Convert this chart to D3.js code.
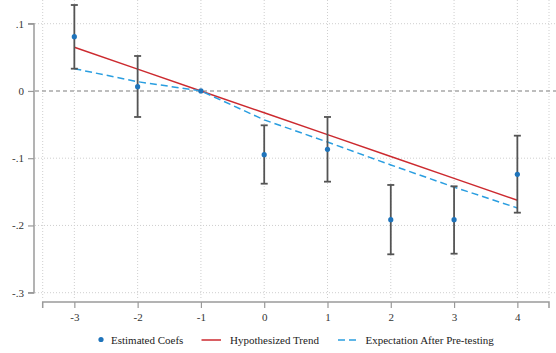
<!DOCTYPE html>
<html>
<head>
<meta charset="utf-8">
<script src="https://cdn.jsdelivr.net/npm/d3@7"></script>
<style>
  html, body { margin: 0; padding: 0; background: #fff; }
  svg { display: block; font-family: "Liberation Serif", "Times New Roman", serif; }
</style>
</head>
<body>
<svg id="chart" width="556" height="353"></svg>
<script>
// Event-time periods relative to treatment
const periods = [-3, -2, -1, 0, 1, 2, 3, 4];
// Estimated coefficients and 95% confidence bounds
const coefs   = [0.0807, 0.0063, 0, -0.0947, -0.0868, -0.1914, -0.1914, -0.1240];
const ciLow   = [0.0331, -0.0387, null, -0.1379, -0.1349, -0.2429, -0.2420, -0.1810];
const ciHigh  = [0.1278, 0.0520, null, -0.0511, -0.0387, -0.1398, -0.1418, -0.0665];
// Linear trend and expectation after pre-testing
const trend    = [0.0650, 0.0325, 0, -0.0325, -0.0650, -0.0975, -0.1300, -0.1625];
const expected = [0.0331, 0.0138, 0, -0.0430, -0.0760, -0.1100, -0.1430, -0.1740];
// Axis tick labels
const yTicks = [0.1, 0, -0.1, -0.2, -0.3];
const yTickLabels = [".1", "0", "-.1", "-.2", "-.3"];
const xTicks = [-3, -2, -1, 0, 1, 2, 3, 4];
const legendLabels = ["Estimated Coefs", "Hypothesized Trend", "Expectation After Pre-testing"];

const svg = d3.select("#chart");
const x = d3.scaleLinear().domain([-3.5, 4.5]).range([42.7, 549]);
const y = d3.scaleLinear().domain([0.1, -0.3]).range([23.7, 292.7]);

const axisColor = "#9a9a9a";
const gridColor = "#cfcfcf";

// Horizontal grid
svg.append("g").selectAll("line").data(yTicks.filter(d => d !== 0)).join("line")
  .attr("x1", 35).attr("x2", 556)
  .attr("y1", d => y(d)).attr("y2", d => y(d))
  .attr("stroke", gridColor).attr("stroke-width", 1).attr("stroke-dasharray", "1,2");

// Vertical grid, including the domain ends
const vGrid = [-3.5, ...xTicks, 4.5];
svg.append("g").selectAll("line").data(vGrid).join("line")
  .attr("x1", d => x(d)).attr("x2", d => x(d))
  .attr("y1", 0).attr("y2", 299)
  .attr("stroke", gridColor).attr("stroke-width", 1).attr("stroke-dasharray", "1,2");

// Zero reference line
svg.append("line")
  .attr("x1", 35).attr("x2", 556).attr("y1", y(0)).attr("y2", y(0))
  .attr("stroke", "#a8a8a8").attr("stroke-width", 1.6).attr("stroke-dasharray", "4,3");

// Y axis
const yAxis = d3.axisLeft(y).tickValues(yTicks).tickFormat((d, i) => yTickLabels[i]).tickSize(6).tickPadding(4);
const gy = svg.append("g").attr("transform", "translate(34,0)").call(yAxis);
gy.select(".domain").attr("stroke", axisColor).attr("stroke-width", 1.5).attr("d", `M-6,${y(0.1)}H0V${y(-0.3)}H-6`);
gy.selectAll(".tick line").attr("stroke", axisColor).attr("stroke-width", 1.2);
gy.selectAll(".tick text").attr("fill", "#333").style("font-size", "11px").style("font-family", "Liberation Serif, serif");

// X axis
const xAxis = d3.axisBottom(x).tickValues(xTicks).tickFormat(d3.format("d")).tickSize(6).tickPadding(5);
const gx = svg.append("g").attr("transform", "translate(0,302)").call(xAxis);
gx.select(".domain").attr("stroke", axisColor).attr("stroke-width", 1.5).attr("d", `M${x(-3.5)},6V0H${x(4.5)}V6`);
gx.selectAll(".tick line").attr("stroke", axisColor).attr("stroke-width", 1.2);
gx.selectAll(".tick text").attr("fill", "#333").style("font-size", "11px").style("font-family", "Liberation Serif, serif")
  .text(d => d < 0 ? "-" + Math.abs(d) : String(d));

// Hypothesized trend
const line = d3.line().x((d, i) => x(periods[i])).y(d => y(d));
svg.append("path").datum(trend).attr("d", line)
  .attr("fill", "none").attr("stroke", "#cc2a2f").attr("stroke-width", 1.5);

// Expectation after pre-testing
svg.append("path").datum(expected).attr("d", line)
  .attr("fill", "none").attr("stroke", "#2a9ee0").attr("stroke-width", 1.5).attr("stroke-dasharray", "7,4");

// Confidence intervals
const ci = periods.map((p, i) => ({ p, lo: ciLow[i], hi: ciHigh[i] })).filter(d => d.lo !== null);
const ciG = svg.append("g").attr("stroke", "#545454").attr("stroke-width", 1.8);
ciG.selectAll(".bar").data(ci).join("line")
  .attr("x1", d => x(d.p)).attr("x2", d => x(d.p))
  .attr("y1", d => y(d.hi)).attr("y2", d => y(d.lo));
ciG.selectAll(".capHi").data(ci).join("line")
  .attr("x1", d => x(d.p) - 3.5).attr("x2", d => x(d.p) + 3.5)
  .attr("y1", d => y(d.hi)).attr("y2", d => y(d.hi));
ciG.selectAll(".capLo").data(ci).join("line")
  .attr("x1", d => x(d.p) - 3.5).attr("x2", d => x(d.p) + 3.5)
  .attr("y1", d => y(d.lo)).attr("y2", d => y(d.lo));

// Point estimates
svg.append("g").selectAll("circle").data(coefs).join("circle")
  .attr("cx", (d, i) => x(periods[i])).attr("cy", d => y(d))
  .attr("r", 2.6).attr("fill", "#1f74bb");

// Legend
const lg = svg.append("g").style("font-size", "11px").attr("fill", "#222");
const ly = 340;
lg.append("circle").attr("cx", 101).attr("cy", ly - 0.5).attr("r", 2.6).attr("fill", "#1f74bb");
lg.append("text").attr("x", 111).attr("y", ly + 3.8).text(legendLabels[0]);
lg.append("line").attr("x1", 201.5).attr("x2", 221).attr("y1", ly).attr("y2", ly)
  .attr("stroke", "#cc2a2f").attr("stroke-width", 1.5);
lg.append("text").attr("x", 230).attr("y", ly + 3.8).text(legendLabels[1]);
lg.append("line").attr("x1", 338).attr("x2", 356).attr("y1", ly).attr("y2", ly)
  .attr("stroke", "#2a9ee0").attr("stroke-width", 1.5).attr("stroke-dasharray", "7,4");
lg.append("text").attr("x", 365.5).attr("y", ly + 3.8).text(legendLabels[2]);
</script>
</body>
</html>
